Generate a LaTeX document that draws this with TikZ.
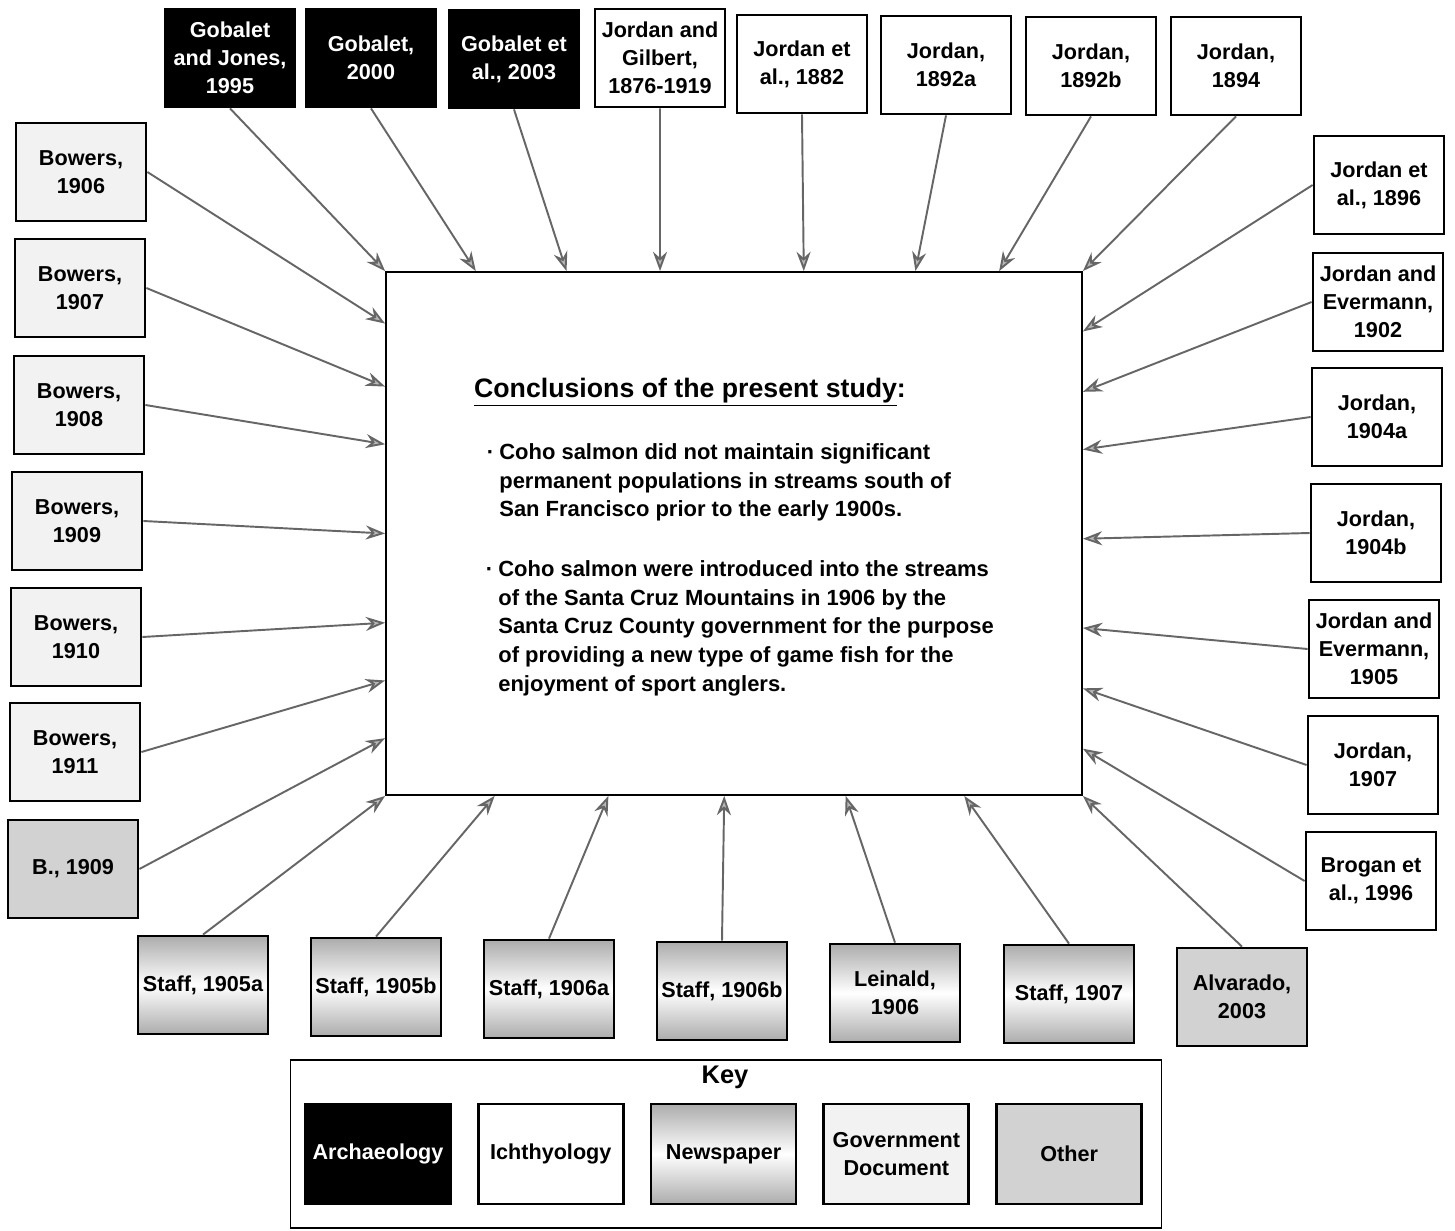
\documentclass[tikz,border=0pt]{standalone}
\usepackage{fontspec}
\setmainfont{Liberation Sans}
\usetikzlibrary{calc,positioning,arrows.meta}

\tikzset{
	src/.style={draw=black, line width=1.6pt, minimum width=2.6cm, minimum height=1.96cm,
		align=center, inner sep=1pt, font=\fontsize{12.3}{16}\selectfont\bfseries},
	arch/.style={src, fill=black, text=white},
	ichth/.style={src, fill=white},
	news/.style={src, top color=gray!65, bottom color=gray!65, middle color=white},
	govdoc/.style={src, fill=gray!10},
	other/.style={src, fill=gray!35},
	keyitem/.style={minimum width=2.9cm, minimum height=2cm},
	conn/.style={every edge/.style={draw=black!60, line width=1.1pt,
		-{Stealth[length=11pt,width=8pt,fill=gray!55]}}},
}

\begin{document}
\begin{tikzpicture}[x=0.02cm, y=-0.02cm]
	\useasboundingbox (0,0) rectangle (1455,1231);

	% conclusions
	\node[draw, line width=1.1pt, minimum width=13.92cm, minimum height=10.46cm, inner sep=0pt] (concl) at (734,533.5) {};
	\node[font=\fontsize{15.2}{18}\selectfont\bfseries] (title) at (690,392) {\underline{Conclusions of the present study}:};
	\node[anchor=north west, inner sep=0pt, align=left, font=\fontsize{12.5}{16.4}\selectfont\bfseries] (pt1) at (499,443)
		{\llap{\textperiodcentered\hspace{3pt}}Coho salmon did not maintain significant\\
		 permanent populations in streams south of\\
		 San Francisco prior to the early 1900s.};
	\node[anchor=north west, inner sep=0pt, align=left, font=\fontsize{12.5}{16.4}\selectfont\bfseries] (pt2) at (498,560)
		{\llap{\textperiodcentered\hspace{3pt}}Coho salmon were introduced into the streams\\
		 of the Santa Cruz Mountains in 1906 by the\\
		 Santa Cruz County government for the purpose\\
		 of providing a new type of game fish for the\\
		 enjoyment of sport anglers.};

	% top row
	\node[arch] (gj) at (230,58) {Gobalet\\and Jones,\\1995};
	\node[arch] (g00) at (371,58) {Gobalet,\\2000};
	\node[arch] (g03) at (514,59) {Gobalet et\\al., 2003};
	\node[ichth] (jg) at (660,58) {Jordan and\\Gilbert,\\1876-1919};
	\node[ichth] (j82) at (802,64) {Jordan et\\al., 1882};
	\node[ichth] (j92a) at (946,65) {Jordan,\\1892a};
	\node[ichth] (j92b) at (1091,66) {Jordan,\\1892b};
	\node[ichth] (j94) at (1236,66) {Jordan,\\1894};

	% left column
	\node[govdoc] (b06) at (81,172) {Bowers,\\1906};
	\node[govdoc] (b07) at (80,288) {Bowers,\\1907};
	\node[govdoc] (b08) at (79,405) {Bowers,\\1908};
	\node[govdoc] (b09) at (77,521) {Bowers,\\1909};
	\node[govdoc] (b10) at (76,637) {Bowers,\\1910};
	\node[govdoc] (b11) at (75,752) {Bowers,\\1911};
	\node[other] (bb09) at (73,869) {B., 1909};

	% right column
	\node[ichth] (j96) at (1379,185) {Jordan et\\al., 1896};
	\node[ichth] (je02) at (1378,302) {Jordan and\\Evermann,\\1902};
	\node[ichth] (j04a) at (1377,417) {Jordan,\\1904a};
	\node[ichth] (j04b) at (1376,533) {Jordan,\\1904b};
	\node[ichth] (je05) at (1374,649) {Jordan and\\Evermann,\\1905};
	\node[ichth] (j07) at (1373,765) {Jordan,\\1907};
	\node[ichth] (br96) at (1371,881) {Brogan et\\al., 1996};

	% bottom row
	\node[news] (s05a) at (203,985) {Staff, 1905a};
	\node[news] (s05b) at (376,987) {Staff, 1905b};
	\node[news] (s06a) at (549,989) {Staff, 1906a};
	\node[news] (s06b) at (722,991) {Staff, 1906b};
	\node[news] (lein) at (895,993) {Leinald,\\1906};
	\node[news] (s07) at (1069,994) {Staff, 1907};
	\node[other] (alv) at (1242,997) {Alvarado,\\2003};

	\path[conn]
	(gj.south) edge (concl.north west)
	(g00.south) edge ($(concl.north west)!0.13!(concl.north east)$)
	(g03.south) edge ($(concl.north west)!0.26!(concl.north east)$)
	(jg.south) edge ($(concl.north west)!0.394!(concl.north east)$)
	(j82.south) edge ($(concl.north west)!0.60!(concl.north east)$)
	(j92a.south) edge ($(concl.north west)!0.76!(concl.north east)$)
	(j92b.south) edge ($(concl.north west)!0.88!(concl.north east)$)
	(j94.south) edge (concl.north east)
	(b06.east) edge ($(concl.north west)!0.10!(concl.south west)$)
	(b07.east) edge ($(concl.north west)!0.22!(concl.south west)$)
	(b08.east) edge ($(concl.north west)!0.33!(concl.south west)$)
	(b09.east) edge ($(concl.north west)!0.50!(concl.south west)$)
	(b10.east) edge ($(concl.north west)!0.67!(concl.south west)$)
	(b11.east) edge ($(concl.north west)!0.78!(concl.south west)$)
	(bb09.east) edge ($(concl.north west)!0.89!(concl.south west)$)
	(j96.west) edge ($(concl.north east)!0.115!(concl.south east)$)
	(je02.west) edge ($(concl.north east)!0.23!(concl.south east)$)
	(j04a.west) edge ($(concl.north east)!0.34!(concl.south east)$)
	(j04b.west) edge ($(concl.north east)!0.51!(concl.south east)$)
	(je05.west) edge ($(concl.north east)!0.68!(concl.south east)$)
	(j07.west) edge ($(concl.north east)!0.795!(concl.south east)$)
	(br96.west) edge ($(concl.north east)!0.91!(concl.south east)$)
	(s05a.north) edge (concl.south west)
	(s05b.north) edge ($(concl.south west)!0.157!(concl.south east)$)
	(s06a.north) edge ($(concl.south west)!0.32!(concl.south east)$)
	(s06b.north) edge ($(concl.south west)!0.486!(concl.south east)$)
	(lein.north) edge ($(concl.south west)!0.66!(concl.south east)$)
	(s07.north) edge ($(concl.south west)!0.83!(concl.south east)$)
	(alv.north) edge (concl.south east);

	% key
	\node[draw, line width=0.8pt, minimum width=17.42cm, minimum height=3.36cm] (keybox) at (726,1144) {};
	\node[font=\fontsize{14.5}{17}\selectfont\bfseries] (keytitle) at (725,1077) {Key};
	\node[arch, keyitem] (karch) at (378,1154) {Archaeology};
	\node[ichth, keyitem, right=0.5cm of karch] (kich) {Ichthyology};
	\node[news, keyitem, right=0.5cm of kich] (knews) {Newspaper};
	\node[govdoc, keyitem, right=0.5cm of knews] (kgov) {Government\\Document};
	\node[other, keyitem, right=0.5cm of kgov] (koth) {Other};
\end{tikzpicture}
\end{document}
